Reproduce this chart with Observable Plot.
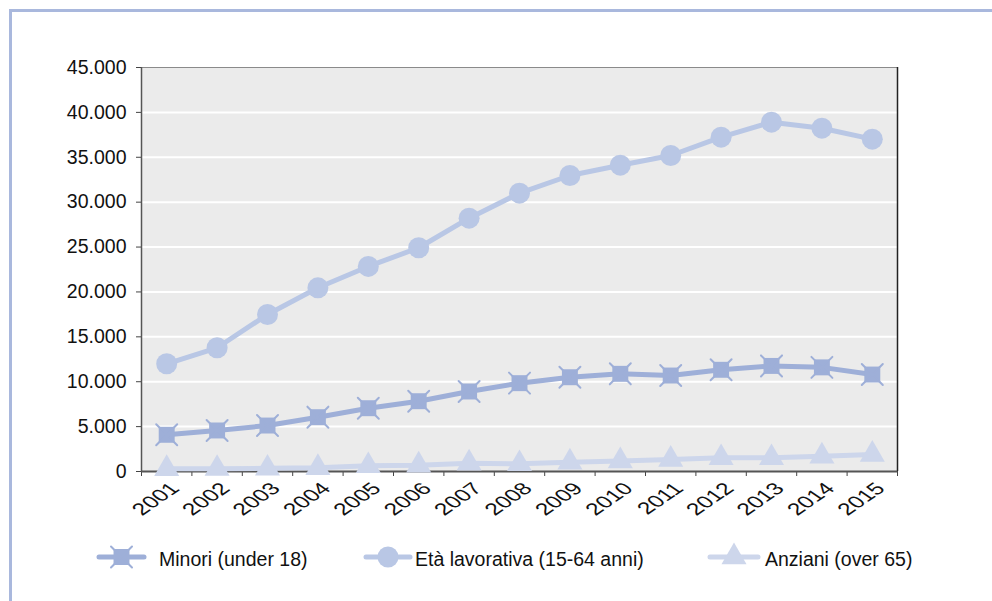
<!DOCTYPE html>
<html><head><meta charset="utf-8">
<script src="https://cdn.jsdelivr.net/npm/d3@7"></script>
<script src="https://cdn.jsdelivr.net/npm/@observablehq/plot@0.6"></script>
<style>
html,body{margin:0;padding:0;width:992px;height:601px;overflow:hidden;background:#fff;font-family:"Liberation Sans",Arial,sans-serif;}
#frame{position:absolute;left:9px;top:9px;width:1200px;height:800px;border-left:3px solid #a9b8dd;border-top:3px solid #a9b8dd;}
#chart{position:absolute;left:0;top:0;}
.icon{position:absolute;}
.ltext{position:absolute;top:547px;height:24px;line-height:24px;font-size:19.5px;color:#111;white-space:nowrap;}
</style></head><body>
<div id="frame"></div>
<div id="chart"></div>
<div id="legend"></div>
<script>
const years = [2001,2002,2003,2004,2005,2006,2007,2008,2009,2010,2011,2012,2013,2014,2015];
const minori = [4090,4570,5120,6050,7050,7830,8910,9840,10500,10880,10690,11330,11760,11600,10800];
const eta = [12000,13780,17490,20460,22840,24920,28220,31000,32970,34120,35200,37240,38910,38240,37020];
const anziani = [300,320,350,420,630,700,920,850,1030,1180,1340,1520,1520,1700,1890];
const yTicks = [0,5000,10000,15000,20000,25000,30000,35000,40000,45000];
const seriesNames = ["Minori (under 18)","Età lavorativa (15-64 anni)","Anziani (over 65)"];

const C_MIN = "#9eafd8", C_ETA = "#b9c7e5", C_ANZ = "#cdd6eb";

const data = years.map((y,i)=>({year:y, minori:minori[i], eta:eta[i], anziani:anziani[i]}));
const xMin = years[0]-0.5, xMax = years[years.length-1]+0.5;
const boundaries = years.map(y=>y-0.5).concat([xMax]);
const yMax = yTicks[yTicks.length-1];
const fmt = d3.formatLocale({decimal:",",thousands:".",grouping:[3],currency:["€",""]}).format(",d");

const svg = Plot.plot({
  width: 992, height: 530,
  marginLeft: 141, marginRight: 95, marginTop: 67, marginBottom: 59,
  x: {type: "linear", domain: [xMin, xMax]},
  y: {domain: [0, yMax]},
  style: {fontFamily: '"Liberation Sans", Arial, sans-serif', fontSize: "19.5px", color: "#111", background: "transparent", overflow: "visible"},
  marks: [
    Plot.frame({fill: "#ebebeb", stroke: "none"}),
    Plot.ruleY(yTicks.filter(v=>v>0 && v<yMax), {stroke: "#fff", strokeWidth: 2}),
    Plot.ruleY([yMax], {stroke: "#8a8a8a", strokeWidth: 1}),
    Plot.ruleX([xMax], {stroke: "#222", strokeWidth: 1.5}),
    Plot.ruleX([xMin], {stroke: "#555", strokeWidth: 1.5}),
    Plot.axisY({ticks: yTicks, tickFormat: fmt, tickSize: 5, tickPadding: 10, stroke: "#444", fill: "#111", fontSize: 19.5, label: null}),
    Plot.axisX({ticks: boundaries, tickSize: 5, tickFormat: () => "", stroke: "#444", label: null}),
    Plot.ruleY([0], {stroke: "#555", strokeWidth: 2}),
    Plot.line(data, {x: "year", y: "minori", stroke: C_MIN, strokeWidth: 5}),
    Plot.dot(data, {x: "year", y: "minori", symbol: "square", r: 9, fill: C_MIN}),
    Plot.dot(data, {x: "year", y: "minori", symbol: "times", r: 9.6, stroke: C_MIN, strokeWidth: 2, strokeLinecap: "round"}),
    Plot.line(data, {x: "year", y: "eta", stroke: C_ETA, strokeWidth: 5}),
    Plot.dot(data, {x: "year", y: "eta", r: 10.5, fill: C_ETA}),
    Plot.line(data, {x: "year", y: "anziani", stroke: C_ANZ, strokeWidth: 5}),
    Plot.dot(data, {x: "year", y: "anziani", symbol: "triangle", r: 9.3, fill: C_ANZ}),
    Plot.text(years, {x: d=>d, text: d=>String(d), frameAnchor: "bottom", dx: 14, dy: 18, rotate: -45, textAnchor: "end", lineAnchor: "bottom", fontSize: 17, fill: "#111"})
  ]
});
svg.querySelectorAll("text").forEach(t => {
  const tr = t.getAttribute("transform");
  if (tr && tr.includes("rotate(")) t.setAttribute("transform", tr.replace("rotate(", "scale(1.45,1) rotate("));
});
document.getElementById("chart").appendChild(svg);

// Legend
const legend = document.getElementById("legend");
const legendItems = [
  {name: seriesNames[0], color: C_MIN, kind: "sq", x0: 97, x1: 146, textX: 159},
  {name: seriesNames[1], color: C_ETA, kind: "circle", x0: 364, x1: 412, textX: 415},
  {name: seriesNames[2], color: C_ANZ, kind: "tri", x0: 708, x1: 760, textX: 765}
];
const NS = "http://www.w3.org/2000/svg";
legendItems.forEach(it => {
  const w = it.x1 - it.x0 + 8, h = 30;
  const s = document.createElementNS(NS, "svg");
  s.setAttribute("width", w); s.setAttribute("height", h);
  s.setAttribute("class", "icon");
  s.style.left = (it.x0 - 4) + "px"; s.style.top = (557 - h/2) + "px";
  const cx = w/2, cy = h/2;
  const ln = document.createElementNS(NS, "line");
  ln.setAttribute("x1", 4 + 2); ln.setAttribute("x2", w - 4 - 2);
  ln.setAttribute("y1", cy); ln.setAttribute("y2", cy);
  ln.setAttribute("stroke", it.color); ln.setAttribute("stroke-width", 5); ln.setAttribute("stroke-linecap", "round");
  s.appendChild(ln);
  const g = document.createElementNS(NS, "g");
  g.setAttribute("transform", `translate(${cx},${cy})`);
  const addPath = (d, fill, stroke, sw) => {
    const p = document.createElementNS(NS, "path");
    p.setAttribute("d", d); p.setAttribute("fill", fill);
    if (stroke) { p.setAttribute("stroke", stroke); p.setAttribute("stroke-width", sw); p.setAttribute("stroke-linecap", "round"); }
    g.appendChild(p);
  };
  if (it.kind === "sq") {
    addPath(d3.symbol(d3.symbolSquare, Math.PI*9*9)(), it.color);
    addPath(d3.symbol(d3.symbolTimes, Math.PI*9.6*9.6)(), "none", it.color, 2);
  } else if (it.kind === "circle") {
    addPath(d3.symbol(d3.symbolCircle, Math.PI*10.5*10.5)(), it.color);
  } else {
    addPath(d3.symbol(d3.symbolTriangle, Math.PI*9.3*9.3)(), it.color);
  }
  s.appendChild(g);
  legend.appendChild(s);
  const t = document.createElement("div");
  t.className = "ltext"; t.style.left = it.textX + "px"; t.textContent = it.name;
  legend.appendChild(t);
});
</script>
</body></html>
